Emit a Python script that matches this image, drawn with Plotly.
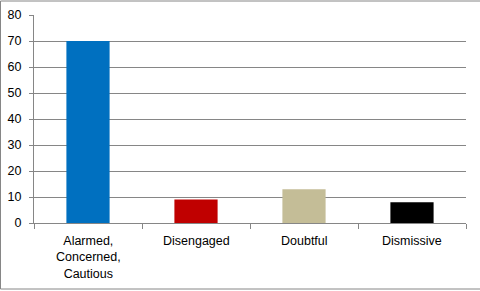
import plotly.graph_objects as go

categories = ["Alarmed,<br>Concerned,<br>Cautious", "Disengaged", "Doubtful", "Dismissive"]
values = [70, 9, 13, 8]
colors = ["#0070C0", "#C00000", "#C4BD97", "#000000"]
y_ticks = [0, 10, 20, 30, 40, 50, 60, 70, 80]

W, H = 480, 291
L, R, T, B = 34, 14, 15, 68
pw, ph = W - L - R, H - T - B

fig = go.Figure(go.Bar(x=categories, y=values, marker=dict(color=colors, line=dict(width=0)), width=0.4))

fig.update_layout(
    width=W, height=H,
    margin=dict(l=L, r=R, t=T, b=B, autoexpand=False),
    paper_bgcolor="white", plot_bgcolor="white",
    font=dict(family="Liberation Sans, Arial, sans-serif", size=12, color="#000000"),
    showlegend=False, bargap=0.6,
    xaxis=dict(showgrid=False, showline=True, linecolor="#868686", linewidth=1,
               ticks="outside", ticklen=5, tickcolor="#868686", automargin=False,
               tickmode="array", tickvals=[-0.5, 0.5, 1.5, 2.5, 3.5], ticktext=[""] * 5,
               range=[-0.5, 3.5]),
    yaxis=dict(range=[0, 80], tickvals=y_ticks, showgrid=True, gridcolor="#868686", gridwidth=1,
               showline=True, linecolor="#868686", linewidth=1, ticks="outside", ticklen=4,
               tickcolor="#868686", zeroline=False, tickfont=dict(size=12.5),
               ticklabelstandoff=5, automargin=False),
    shapes=[dict(type="rect", xref="paper", yref="paper",
                 x0=(0.5 - L) / pw, x1=(W + 5 - L) / pw,
                 y0=(H - 289 - B) / ph, y1=(H - 1 - B) / ph,
                 line=dict(color="#868686", width=1), fillcolor="rgba(0,0,0,0)", layer="below")],
)

for i, c in enumerate(categories):
    fig.add_annotation(x=i, y=0, xref="x", yref="y", text=c, showarrow=False,
                       yanchor="top", yshift=-9, font=dict(size=12.5), align="center")

fig.write_html("out.html")
